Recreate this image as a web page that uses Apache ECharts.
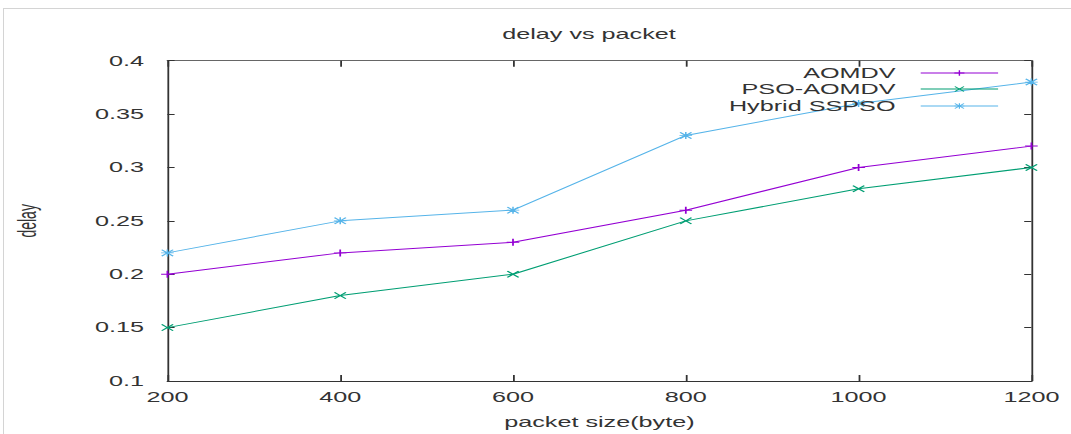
<!DOCTYPE html>
<html>
<head>
<meta charset="utf-8">
<script src="https://cdn.jsdelivr.net/npm/echarts@6/dist/echarts.min.js"></script>
<style>
  html, body { margin: 0; padding: 0; background: #fff; overflow: hidden; }
  #frame { position: absolute; left: 3px; top: 8px; width: 1200px; height: 600px;
           border-top: 1px solid #d4d4d4; border-left: 1px solid #d4d4d4; }
  /* the reference is a gnuplot picture stretched sideways, so the chart is drawn narrow and widened */
  #chart { position: absolute; left: 0; top: 0; width: 595px; height: 434px;
           transform: scaleX(1.8); transform-origin: 0 0; }
</style>
</head>
<body>
<div id="frame"></div>
<div id="chart"></div>
<script>
var packetSizes = [200, 400, 600, 800, 1000, 1200];
var aomdv      = [0.20, 0.22, 0.23, 0.26, 0.30, 0.32];
var psoAomdv   = [0.15, 0.18, 0.20, 0.25, 0.28, 0.30];
var hybridSSPSO = [0.22, 0.25, 0.26, 0.33, 0.36, 0.38];

var font = 'Liberation Sans';
var textColor = '#333';

// gnuplot point types: + , x , *
var plusPath = 'path://M4.3,0H5.7V4.3H10V5.7H5.7V10H4.3V5.7H0V4.3H4.3Z';
var crossPath = 'path://M0,1L1,0L5,4L9,0L10,1L6,5L10,9L9,10L5,6L1,10L0,9L4,5Z';
var starPath = 'path://M4.4,0H5.6V4.4H10V5.6H5.6V10H4.4V5.6H0V4.4H4.4Z M0,1L1,0L5,4L9,0L10,1L6,5L10,9L9,10L5,6L1,10L0,9L4,5Z';

function pairs(vals) {
    var out = [];
    for (var i = 0; i < packetSizes.length; i++) {
        out.push([packetSizes[i], vals[i]]);
    }
    return out;
}

function makeSeries(name, vals, color, symbol) {
    return {
        name: name,
        type: 'line',
        data: pairs(vals),
        symbol: symbol,
        symbolSize: 7,
        showSymbol: true,
        lineStyle: { color: color, width: 1 },
        itemStyle: { color: color },
        emphasis: { disabled: true },
        animation: false
    };
}

function legendFor(name, top) {
    return {
        data: [name],
        right: 40,
        top: top,
        padding: 0,
        align: 'right',
        itemWidth: 43,
        itemHeight: 7,
        selectedMode: false,
        lineStyle: { width: 1 },
        textStyle: { fontFamily: font, fontSize: 14, color: textColor, padding: [0, 9, 0, 0] }
    };
}

var axisLine = { show: true, lineStyle: { color: '#333', width: 1 } };
var tick = { show: true, inside: true, length: 4, lineStyle: { color: '#333' } };
var xTick = { show: true, inside: true, length: 6, lineStyle: { color: '#333' } };

var myChart = echarts.init(document.getElementById('chart'), null, { renderer: 'svg' });
myChart.setOption({
    animation: false,
    title: {
        text: 'delay vs packet',
        left: 279,
        top: 27,
        padding: 0,
        textStyle: { fontFamily: font, fontSize: 14, fontWeight: 'normal', color: textColor }
    },
    legend: [
        legendFor('AOMDV', 66),
        legendFor('PSO-AOMDV', 82),
        legendFor('Hybrid SSPSO', 99)
    ],
    grid: { left: 92.6, right: 22, top: 60.7, bottom: 52.3, containLabel: false },
    xAxis: [
        {
            type: 'value',
            min: 200,
            max: 1200,
            interval: 200,
            name: 'packet size(byte)',
            nameLocation: 'middle',
            nameGap: 34,
            nameTextStyle: { fontFamily: font, fontSize: 14, color: textColor },
            axisLine: axisLine,
            axisTick: xTick,
            axisLabel: {
                margin: 9, fontFamily: font, fontSize: 14, color: textColor,
                formatter: function (v) { return String(v); }
            },
            splitLine: { show: false }
        },
        {
            type: 'value',
            position: 'top',
            min: 200,
            max: 1200,
            interval: 200,
            axisLine: { show: true, lineStyle: { color: '#666', width: 1 } },
            axisTick: xTick,
            axisLabel: { show: false },
            splitLine: { show: false }
        }
    ],
    yAxis: [
        {
            type: 'value',
            min: 0.1,
            max: 0.4,
            interval: 0.05,
            name: 'delay',
            nameLocation: 'middle',
            nameGap: 71,
            nameTextStyle: { fontFamily: font, fontSize: 14, color: textColor },
            axisLine: axisLine,
            axisTick: tick,
            axisLabel: { margin: 13, fontFamily: font, fontSize: 14, color: textColor },
            splitLine: { show: false }
        },
        {
            type: 'value',
            position: 'right',
            min: 0.1,
            max: 0.4,
            interval: 0.05,
            axisLine: axisLine,
            axisTick: tick,
            axisLabel: { show: false },
            splitLine: { show: false }
        }
    ],
    series: [
        makeSeries('AOMDV', aomdv, '#9400d3', plusPath),
        makeSeries('PSO-AOMDV', psoAomdv, '#009e73', crossPath),
        makeSeries('Hybrid SSPSO', hybridSSPSO, '#56b4e9', starPath)
    ]
});
</script>
</body>
</html>
